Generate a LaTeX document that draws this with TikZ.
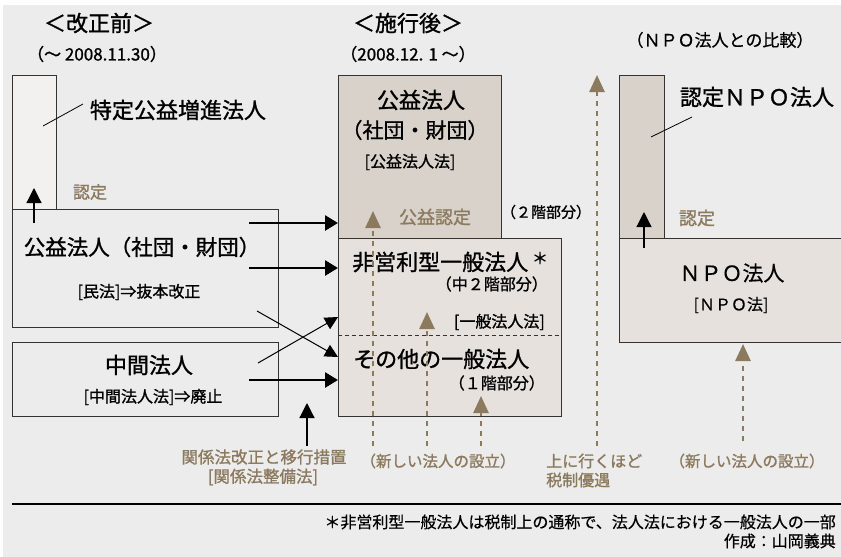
\documentclass[tikz,border=0pt]{standalone}
\usepackage{fontspec}
\setmainfont{Noto Sans CJK JP}[FakeBold=1.2]
\newfontfamily\lightfont{Noto Sans CJK JP}[FakeBold=0.5]
\usetikzlibrary{arrows.meta}
\definecolor{bg}{HTML}{ECECEC}
\definecolor{brn}{HTML}{8C7A5E}
\definecolor{lite}{HTML}{F2F1F0}
\definecolor{darkbox}{HTML}{D9D2CB}
\definecolor{midbox}{HTML}{E6E1DD}
\definecolor{edge}{HTML}{333333}
\newcommand\fsz[1]{\fontsize{#1pt}{#1pt}\selectfont}
\begin{document}
\begin{tikzpicture}[x=1pt,y=-1pt,
  box/.style={draw=edge, line width=1pt, inner sep=0pt, anchor=north west},
  txt/.style={inner sep=0pt, anchor=center},
  big/.style={txt, font=\fsz{22}},
  small/.style={txt, font=\fsz{16}},
  btxt/.style={txt, text=brn, font=\fsz{17}},
  blk/.style={line width=2.8pt, -{Triangle[length=13pt,width=15pt]}},
  thinup/.style={line width=1.2pt, -{Triangle[length=15pt,width=15pt]}},
  bd/.style={draw=brn, line width=2.6pt, dash pattern=on 5pt off 5pt, -{Triangle[length=17pt,width=15pt,fill=brn]}},
  lead/.style={line width=0.8pt},
]
\useasboundingbox (0,0) rectangle (841,557);
\fill[white] (0,0) rectangle (841,557);
\fill[bg] (3,5) rectangle (841,557);

% ---------- titles ----------
\node[big] (t1) at (99,23) {＜改正前＞};
\node[txt, font=\fsz{17}] (d1) at (97,54) {（～ 2008.11.30）};
\node[big] (t2) at (408,23) {＜施行後＞};
\node[txt, font=\fsz{17}] (d2) at (408,54) {（2008.12. 1 ～）};
\node[txt, font=\fsz{17}\lightfont] (t3) at (720,40) {（ＮＰＯ法人との比較）};

% ---------- left (before) ----------
\node[box, fill=lite, minimum width=44pt, minimum height=134pt] (tk) at (12,75) {};
\node[box, fill=bg, minimum width=266pt, minimum height=118pt] (ko) at (12,209) {};
\node[box, fill=bg, minimum width=266pt, minimum height=74pt] (chu) at (12,342) {};

\node[big] (tklbl) at (178,110) {特定公益増進法人};
\coordinate (tkl1) at (43,126);
\coordinate (tkl2) at (83,104);
\draw[lead] (tkl1) -- (tkl2);

\coordinate (nu1) at (34,223);
\coordinate (nu2) at (34,188);
\draw[thinup] (nu1) -- (nu2);
\node[btxt] (nt1) at (90,192) {認定};

\node[big, font=\fsz{21.5}] (kolbl) at (142,247) {公益法人（社団・財団）};
\node[small] (kolaw) at (139,292) {[民法]⇒抜本改正};
\node[big] (chulbl) at (149,365) {中間法人};
\node[small] (chulaw) at (153,397) {[中間法人法]⇒廃止};

% ---------- middle (after) ----------
\node[box, fill=darkbox, minimum width=163pt, minimum height=163pt] (kn) at (338,75) {};
\node[box, fill=midbox, minimum width=223pt, minimum height=178pt] (ip) at (338,238) {};
\coordinate (dl1) at (338,335);
\coordinate (dl2) at (561,335);
\draw[edge, line width=0.8pt, dash pattern=on 4pt off 3pt] (dl1) -- (dl2);

\node[big] (knl1) at (421,100) {公益法人};
\node[big, font=\fsz{21}] (knl2) at (415,130) {（社団・財団）};
\node[small] (knl3) at (410,162) {[公益法人法]};
\node[btxt, font=\fsz{18}] (knl4) at (435,217) {公益認定};
\node[txt, font=\fsz{15}] (kai2) at (546,212) {（２階部分）};

\node[big, anchor=west] (ip1) at (352,262) {非営利型一般法人};
\node[txt, font=\fsz{16}] (ast) at (540,258) {＊};
\node[small, anchor=east] (ip2) at (548,284) {（中２階部分）};
\node[small, anchor=east] (ip3) at (545,322) {[一般法人法]};
\node[big, anchor=west] (ip4) at (353,359) {その他の一般法人};
\node[small, anchor=east] (ip5) at (545,383) {（１階部分）};

% black arrows old -> new
\coordinate (a1) at (249,223);
\coordinate (a2) at (249,268);
\coordinate (a3) at (249,380);
\coordinate (c1) at (257,311);
\coordinate (c1e) at (338,357);
\coordinate (c2) at (258,363);
\coordinate (c2e) at (338,317);
\draw[blk] (a1) -- (a1 -| kn.west);
\draw[blk] (a2) -- (a2 -| ip.west);
\draw[blk] (a3) -- (a3 -| ip.west);
\draw[line width=1pt, -{Triangle[length=13pt,width=13pt]}] (c1) -- (c1e);
\draw[line width=1pt, -{Triangle[length=13pt,width=13pt]}] (c2) -- (c2e);

\coordinate (rl1) at (307,446);
\coordinate (rl2) at (307,403);
\draw[thinup] (rl1) -- (rl2);
\node[btxt, font=\fsz{16.5}] (rel1) at (264,457) {関係法改正と移行措置};
\node[btxt, font=\fsz{16.5}] (rel2) at (263,477) {[関係法整備法]};

% brown dashed arrows
\coordinate (b1s) at (373,446);
\coordinate (b1e) at (373,211);
\coordinate (b2s) at (427,446);
\coordinate (b2e) at (427,312);
\coordinate (b3s) at (481,446);
\coordinate (b3e) at (481,396);
\coordinate (b4s) at (597,446);
\coordinate (b4e) at (597,75);
\coordinate (b5s) at (743,441);
\coordinate (b5e) at (743,344);
\draw[bd] (b1s) -- (b1e);
\draw[bd] (b2s) -- (b2e);
\draw[bd] (b3s) -- (b3e);
\draw[bd] (b4s) -- (b4e);
\draw[bd] (b5s) -- (b5e);

\node[btxt, font=\fsz{15.5}] (new1) at (438,461) {（新しい法人の設立）};
\node[btxt, font=\fsz{16}, anchor=west] (up1) at (546,461) {上に行くほど};
\node[btxt, font=\fsz{16}, anchor=west] (up2) at (546,480) {税制優遇};
\node[btxt, font=\fsz{15.5}] (new2) at (747,461) {（新しい法人の設立）};

% ---------- right (NPO) ----------
\node[box, fill=darkbox, minimum width=45pt, minimum height=163pt] (nn) at (619,75) {};
\node[box, fill=midbox, minimum width=240pt, minimum height=104pt] (npo) at (619,238) {};
\node[big] (nnlbl) at (757,97) {認定ＮＰＯ法人};
\coordinate (nnl1) at (651,137);
\coordinate (nnl2) at (692,117);
\draw[lead] (nnl1) -- (nnl2);
\coordinate (nu3) at (644,248);
\coordinate (nu4) at (644,212);
\draw[thinup] (nu3) -- (nu4);
\node[btxt, font=\fsz{18}] (nt2) at (697,218) {認定};
\node[big, font=\fsz{21}\lightfont] (npol1) at (732,273) {ＮＰＯ法人};
\node[small, font=\fsz{16}\lightfont] (npol2) at (731,305) {[ＮＰＯ法]};

% ---------- footer ----------
\coordinate (f1) at (12,504);
\coordinate (f2) at (841,504);
\draw[line width=1.2pt] (f1) -- (f2);
\node[txt, anchor=east, font=\fsz{16}\lightfont] (fn1) at (836,522) {＊非営利型一般法人は税制上の通称で、法人法における一般法人の一部};
\node[txt, anchor=east, font=\fsz{16}\lightfont] (fn2) at (836,541) {作成：山岡義典};
\end{tikzpicture}
\end{document}
